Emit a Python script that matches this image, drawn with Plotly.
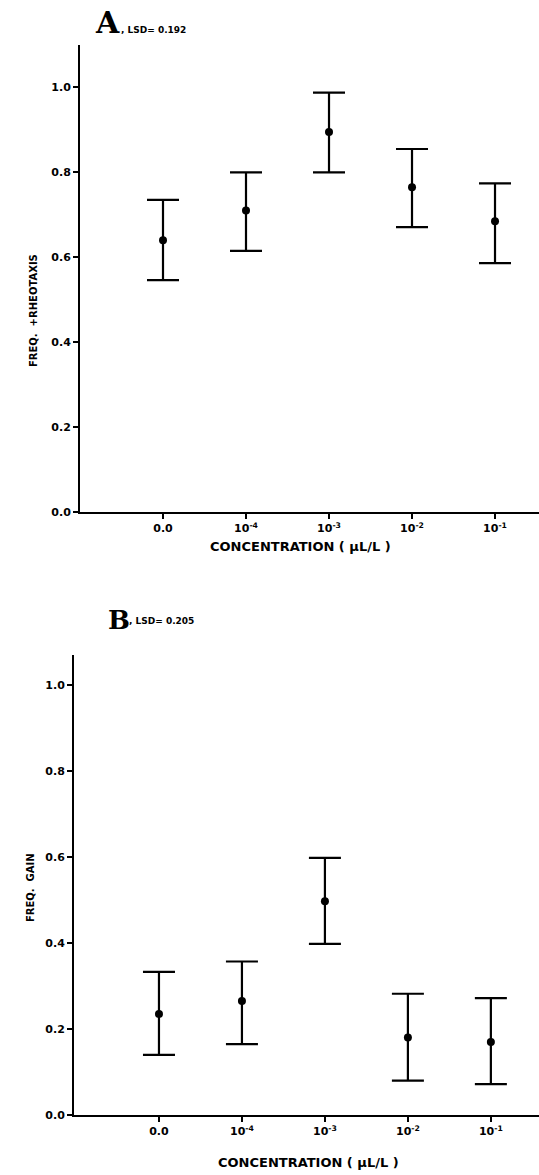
import plotly.graph_objects as go

# ---- data ----
categories = ["0.0", "10<sup>-4</sup>", "10<sup>-3</sup>", "10<sup>-2</sup>", "10<sup>-1</sup>"]
positions = [1, 2, 3, 4, 5]

a_mean = [0.64, 0.71, 0.895, 0.765, 0.685]
a_upper = [0.735, 0.80, 0.988, 0.855, 0.774]
a_lower = [0.546, 0.615, 0.80, 0.671, 0.586]

b_mean = [0.235, 0.265, 0.497, 0.18, 0.17]
b_upper = [0.333, 0.357, 0.598, 0.282, 0.272]
b_lower = [0.14, 0.165, 0.398, 0.08, 0.072]

y_ticks = [0.0, 0.2, 0.4, 0.6, 0.8, 1.0]
y_ticktext = ["0.0", "0.2", "0.4", "0.6", "0.8", "1.0"]

W, H = 539, 1175
FONT = "DejaVu Sans"


def px(x):
    return x / W


def py(y):
    return 1 - y / H


fig = go.Figure()


def add_panel(mean, upper, lower, xa, ya):
    fig.add_trace(go.Scatter(
        x=positions, y=mean, mode="markers",
        marker=dict(color="black", size=8),
        error_y=dict(type="data", symmetric=False,
                     array=[u - m for u, m in zip(upper, mean)],
                     arrayminus=[m - l for m, l in zip(mean, lower)],
                     color="black", thickness=2.2, width=16),
        xaxis=xa, yaxis=ya, showlegend=False, hoverinfo="skip"))


add_panel(a_mean, a_upper, a_lower, "x", "y")
add_panel(b_mean, b_upper, b_lower, "x2", "y2")

tickfont = dict(family=FONT, size=11, color="black", weight="bold")
xcommon = dict(tickvals=positions, ticktext=categories, showline=True, linecolor="black",
               linewidth=2, ticks="outside", ticklen=5, tickwidth=2, tickcolor="black",
               showgrid=False, zeroline=False, tickfont=tickfont, automargin=False,
               fixedrange=True)
ycommon = dict(tickvals=y_ticks, ticktext=y_ticktext, showline=True, linecolor="black",
               linewidth=2, ticks="outside", ticklen=5, tickwidth=2, tickcolor="black",
               showgrid=False, zeroline=False, tickfont=tickfont, automargin=False,
               fixedrange=True)

fig.update_layout(
    width=W, height=H, autosize=False,
    margin=dict(l=0, r=0, t=0, b=0),
    paper_bgcolor="white", plot_bgcolor="white",
    xaxis=dict(domain=[px(80), 1.0], range=[0, 5.53], anchor="y", **xcommon),
    yaxis=dict(domain=[py(512), py(45)], range=[0, 1.1], anchor="x", **ycommon),
    xaxis2=dict(domain=[px(74), 1.0], range=[-0.024, 5.58], anchor="y2", **xcommon),
    yaxis2=dict(domain=[py(1115), py(655)], range=[0, 1.07], anchor="x2", **ycommon),
)

anns = []
# panel titles
anns.append(dict(x=px(93), y=py(42), xanchor="left", yanchor="bottom", text="<b>A</b>",
                 font=dict(family="DejaVu Serif", size=30, color="black"), showarrow=False))
anns.append(dict(x=px(119), y=py(30), xanchor="left", yanchor="middle", text="<b>, LSD= 0.192</b>",
                 font=dict(family=FONT, size=9, color="black"), showarrow=False))
anns.append(dict(x=px(106), y=py(637), xanchor="left", yanchor="bottom", text="<b>B</b>",
                 font=dict(family="DejaVu Serif", size=26, color="black"), showarrow=False))
anns.append(dict(x=px(127), y=py(621), xanchor="left", yanchor="middle", text="<b>, LSD= 0.205</b>",
                 font=dict(family=FONT, size=9, color="black"), showarrow=False))
# y titles
anns.append(dict(x=px(33), y=py(311), xanchor="center", yanchor="middle", textangle=-90,
                 text="<b>FREQ.  +RHEOTAXIS</b>",
                 font=dict(family=FONT, size=10, color="black"), showarrow=False))
anns.append(dict(x=px(30), y=py(888), xanchor="center", yanchor="middle", textangle=-90,
                 text="<b>FREQ.  GAIN</b>",
                 font=dict(family=FONT, size=10, color="black"), showarrow=False))
# x titles
anns.append(dict(x=px(300), y=py(546), xanchor="center", yanchor="middle",
                 text="<b>CONCENTRATION ( μL/L )</b>",
                 font=dict(family=FONT, size=13, color="black"), showarrow=False))
anns.append(dict(x=px(308), y=py(1162), xanchor="center", yanchor="middle",
                 text="<b>CONCENTRATION ( μL/L )</b>",
                 font=dict(family=FONT, size=13, color="black"), showarrow=False))
for a in anns:
    a.update(xref="paper", yref="paper")
fig.update_layout(annotations=anns)

fig.write_html(
    "out.html",
    config={"responsive": False, "displayModeBar": False, "staticPlot": True},
    post_script="document.body.style.margin='0';document.documentElement.style.overflow='hidden';document.body.style.overflow='hidden';",
)
